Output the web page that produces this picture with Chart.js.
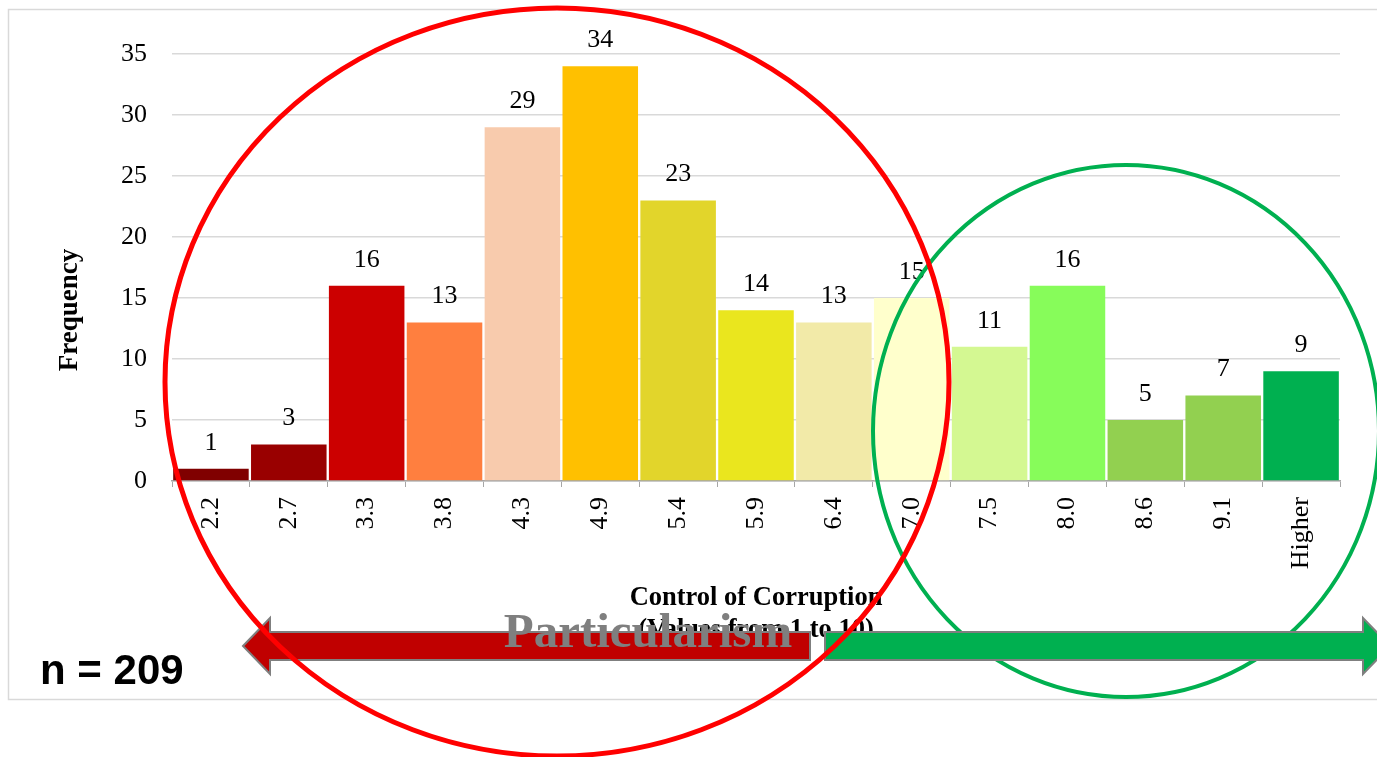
<!DOCTYPE html>
<html>
<head>
<meta charset="utf-8">
<title>Control of Corruption</title>
<script src="https://cdn.jsdelivr.net/npm/chart.js@4.4.1/dist/chart.umd.min.js"></script>
<style>
    html, body { margin: 0; padding: 0; background: #ffffff; }
    canvas { display: block; }
</style>
</head>
<body>
<canvas id="histChart" width="1377" height="757"></canvas>
<script>
// Dados do histograma
const categories = ['2.2', '2.7', '3.3', '3.8', '4.3', '4.9', '5.4', '5.9', '6.4', '7.0', '7.5', '8.0', '8.6', '9.1', 'Higher'];
const frequencies = [1, 3, 16, 13, 29, 34, 23, 14, 13, 15, 11, 16, 5, 7, 9];
const barColors = ['#800000', '#990000', '#cc0000', '#ff7f3f', '#f8cbad', '#ffc000', '#e2d52b', '#eae61e',
    '#f2eaa8', '#ffffcc', '#d4f892', '#87fc5a', '#92d050', '#92d050', '#00b050'];
const yTickValues = [0, 5, 10, 15, 20, 25, 30, 35];
const xTitleLines = ['Control of Corruption', '(Values from 1 to 10)'];
const yTitle = 'Frequency';
const sampleLabel = 'n = 209';
const arrowLabel = 'Particularism';

const serif = "'Liberation Serif', 'Times New Roman', serif";

// Moldura, títulos e anotações desenhadas por cima do gráfico
const overlayPlugin = {
    id: 'overlay',
    beforeDraw(chart) {
        const ctx = chart.ctx;
        ctx.save();
        ctx.fillStyle = '#ffffff';
        ctx.fillRect(0, 0, chart.width, chart.height);
        ctx.strokeStyle = '#d9d9d9';
        ctx.lineWidth = 1.5;
        ctx.strokeRect(8.5, 9.5, 1380, 690);
        ctx.restore();
    },
    afterDatasetsDraw(chart) {
        const ctx = chart.ctx;
        const meta = chart.getDatasetMeta(0);
        ctx.save();
        ctx.font = '26px ' + serif;
        ctx.fillStyle = '#000000';
        ctx.textAlign = 'center';
        ctx.textBaseline = 'middle';
        meta.data.forEach((bar, i) => {
            ctx.fillText(String(frequencies[i]), bar.x, bar.y - 26);
        });
        ctx.restore();
    },
    afterDraw(chart) {
        const ctx = chart.ctx;
        ctx.save();

        // título do eixo Y
        ctx.save();
        ctx.translate(70, 310);
        ctx.rotate(-Math.PI / 2);
        ctx.font = 'bold 27px ' + serif;
        ctx.fillStyle = '#000000';
        ctx.textAlign = 'center';
        ctx.textBaseline = 'middle';
        ctx.fillText(yTitle, 0, 0);
        ctx.restore();

        // elipse verde
        ctx.strokeStyle = '#00b050';
        ctx.lineWidth = 4;
        ctx.beginPath();
        ctx.ellipse(1126, 431, 253, 266, 0, 0, Math.PI * 2);
        ctx.stroke();

        // setas
        function arrow(x0, x1, dir, fill) {
            // x0: ponta, x1: fim da haste
            const cy = 646, headH = 28, shaftH = 14, headL = 27 * dir;
            ctx.beginPath();
            ctx.moveTo(x0, cy);
            ctx.lineTo(x0 + headL, cy - headH);
            ctx.lineTo(x0 + headL, cy - shaftH);
            ctx.lineTo(x1, cy - shaftH);
            ctx.lineTo(x1, cy + shaftH);
            ctx.lineTo(x0 + headL, cy + shaftH);
            ctx.lineTo(x0 + headL, cy + headH);
            ctx.closePath();
            ctx.fillStyle = fill;
            ctx.fill();
            ctx.strokeStyle = '#7f7f7f';
            ctx.lineWidth = 2;
            ctx.stroke();
        }
        arrow(243, 810, 1, '#c00000');
        arrow(1390, 825, -1, '#00b050');

        ctx.font = 'bold 49px ' + serif;
        ctx.fillStyle = '#7f7f7f';
        ctx.textAlign = 'center';
        ctx.textBaseline = 'alphabetic';
        ctx.fillText(arrowLabel, 648, 647);

        ctx.font = "bold 42px 'Liberation Sans', Arial, sans-serif";
        ctx.fillStyle = '#000000';
        ctx.textAlign = 'left';
        ctx.fillText(sampleLabel, 40, 684);

        // elipse vermelha
        ctx.strokeStyle = '#ff0000';
        ctx.lineWidth = 5;
        ctx.beginPath();
        ctx.ellipse(557, 382, 392, 374, 0, 0, Math.PI * 2);
        ctx.stroke();

        ctx.restore();
    }
};

const ctx = document.getElementById('histChart').getContext('2d');
const histChart = new Chart(ctx, {
    type: 'bar',
    data: {
        labels: categories,
        datasets: [{
            label: yTitle,
            data: frequencies,
            backgroundColor: barColors,
            borderWidth: 0,
            barPercentage: 1,
            categoryPercentage: 0.97
        }]
    },
    options: {
        responsive: false,
        animation: false,
        events: [],
        layout: {
            padding: { left: 8, right: 37, top: 54, bottom: 0 }
        },
        plugins: {
            legend: { display: false },
            tooltip: { enabled: false }
        },
        scales: {
            x: {
                offset: true,
                grid: {
                    display: true,
                    drawOnChartArea: false,
                    drawTicks: true,
                    tickLength: 6,
                    color: '#a6a6a6',
                    offset: true
                },
                border: { display: true, color: '#a6a6a6', width: 1.5 },
                ticks: {
                    color: '#000000',
                    font: { family: serif, size: 26 },
                    minRotation: 90,
                    maxRotation: 90,
                    padding: 10,
                    autoSkip: false
                },
                title: {
                    display: true,
                    text: xTitleLines,
                    color: '#000000',
                    font: { family: serif, size: 26.5, weight: 'bold', lineHeight: 1.2 },
                    padding: { top: 0, bottom: 111 }
                },
                afterFit(scale) { scale.height = 276; }
            },
            y: {
                min: 0,
                max: 35,
                afterBuildTicks(scale) {
                    scale.ticks = yTickValues.map(v => ({ value: v }));
                },
                grid: {
                    color: '#d9d9d9',
                    lineWidth: 1.5,
                    drawTicks: false
                },
                border: { display: false },
                ticks: {
                    color: '#000000',
                    font: { family: serif, size: 26 },
                    padding: 25
                },
                afterFit(scale) { scale.width = 164; }
            }
        }
    },
    plugins: [overlayPlugin]
});
</script>
</body>
</html>
